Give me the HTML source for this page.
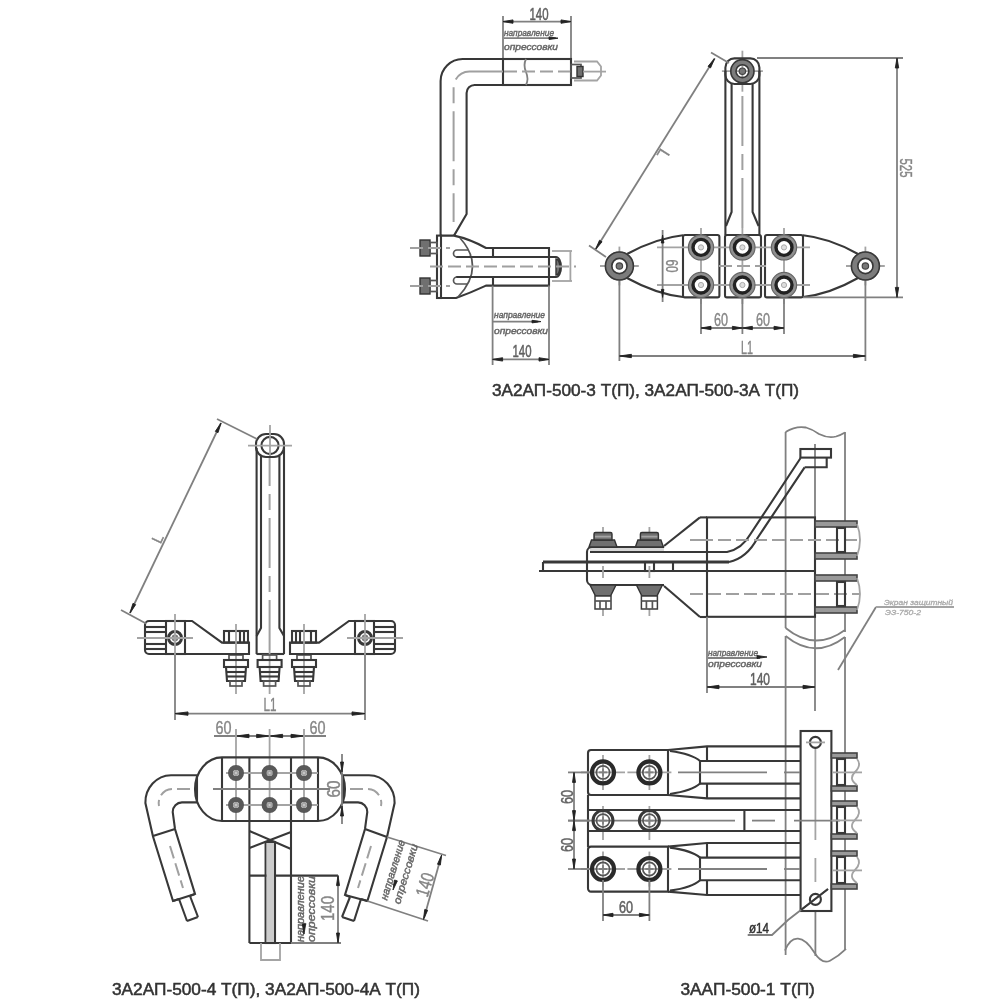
<!DOCTYPE html>
<html lang="ru"><head><meta charset="utf-8"><title>Зажимы аппаратные прессуемые</title>
<style>
html,body{margin:0;padding:0;background:#fff}
body{width:1000px;height:1000px;overflow:hidden}
svg{display:block;font-family:"Liberation Sans",sans-serif;filter:blur(.7px)}
.k{fill:none;stroke:#383838;stroke-width:2.1}
.m{fill:none;stroke:#555;stroke-width:1.7}
.n{fill:none;stroke:#808080;stroke-width:1.8}
.c{fill:none;stroke:#a0a0a0;stroke-width:2;stroke-dasharray:13 5}
.c2{fill:none;stroke:#a0a0a0;stroke-width:2;stroke-dasharray:50 8 16 8}
.g{fill:none;stroke:#a4a4a4;stroke-width:1.8}
.a{fill:#222;stroke:#222;stroke-width:.9;stroke-linejoin:round}
.d{fill:#707070;stroke:#333;stroke-width:1.4}
.b{fill:#999;stroke:#444;stroke-width:1.6}
.s2{fill:#aaa;stroke:#aaa;stroke-width:.3;font-style:italic}
.w{fill:#fff;stroke:#3c3c3c;stroke-width:1.5}
.t{fill:#606060;stroke:#606060;stroke-width:.5}
.lf{fill:#d8d8d8;stroke:none}
.t2{fill:#858585;stroke:#858585;stroke-width:.4}
.s{fill:#666;stroke:#666;stroke-width:.45;font-style:italic}
.cap{fill:#333;stroke:#333;stroke-width:.5}
</style></head><body>
<svg width="1000" height="1000" viewBox="0 0 1000 1000">
<rect width="1000" height="1000" fill="#fff"/>
<!-- drawing 1: L-shaped clamp, side view -->
<path class="n" d="M503,16L503,59"/>
<path class="n" d="M571,16L571,59"/>
<path class="n" d="M503,21.6L571,21.6"/>
<path class="a" d="M503,21.6L513,19.9L513,23.3Z"/>
<path class="a" d="M571,21.6L561,23.3L561,19.9Z"/>
<text class="t" x="539" y="19.5" font-size="16.5" text-anchor="middle" textLength="19" lengthAdjust="spacingAndGlyphs">140</text>
<text class="s" x="504" y="36" font-size="9.5" text-anchor="start" textLength="50" lengthAdjust="spacingAndGlyphs">направление</text>
<path class="n" d="M504,38.2L556,38.2"/>
<path class="a" d="M558,38.2L549,39.5L549,36.9Z"/>
<text class="s" x="504" y="50" font-size="9.5" text-anchor="start" textLength="54" lengthAdjust="spacingAndGlyphs">опрессовки</text>
<path class="k" d="M503,59H462.6A22,22 0 0 0 440.6,81V235.6"/>
<path class="k" d="M503,85H474.6A8,8 0 0 0 466.6,93V214L454,235.6"/>
<rect class="k" x="503" y="59" width="68" height="26"/>
<path class="n" d="M526,59q-3,6 0,13t0,13"/>
<path class="c" d="M571,71.6H503"/>
<path class="c2" d="M503,71.6H470A16,16 0 0 0 453.6,88V222"/>
<rect class="m" x="571" y="64.5" width="10" height="13.5"/>
<rect class="d" x="577" y="66.5" width="6" height="10"/>
<path class="g" d="M574,61.5H597l4,5v9l-4,5H574"/>
<path class="g" d="M583,71.6L606,71.6"/>
<rect class="k" x="437" y="235.6" width="4" height="62.4"/>
<path class="k" d="M441,235.6H454Q470,239 486,248H549V285.6H486Q470,293 456,298H441"/>
<path class="m" d="M460,238Q486,267 458,297"/>
<path class="k" d="M456,257L556,257"/>
<path class="k" d="M456,277L556,277"/>
<path class="m" d="M468,250H457a3.5,3.5 0 0 0 0,7"/>
<path class="m" d="M468,284H457a3.5,3.5 0 0 1 0,-7"/>
<path class="k" d="M493,248L493,257"/>
<path class="k" d="M493,277L493,285.6"/>
<path class="k" d="M549,257H556a5,10 0 0 1 0,20H549"/>
<path class="d" d="M556,259a4,8 0 0 1 0,16z"/>
<path class="c" d="M430,266.6L576,266.6"/>
<rect class="d" x="420" y="240" width="10" height="16"/>
<rect class="m" x="430" y="242.5" width="7" height="11"/>
<path class="c" d="M410,248L450,248"/>
<rect class="d" x="420" y="278" width="10" height="16"/>
<rect class="m" x="430" y="280.5" width="7" height="11"/>
<path class="c" d="M410,286L450,286"/>
<path class="g" d="M552,251L572,251"/>
<path class="g" d="M552,281L572,281"/>
<path class="g" d="M570.4,251L570.4,281"/>
<path class="n" d="M492.6,285.6L492.6,365"/>
<path class="n" d="M549,285.6L549,365"/>
<text class="s" x="494" y="318" font-size="9.5" text-anchor="start" textLength="51" lengthAdjust="spacingAndGlyphs">направление</text>
<path class="n" d="M493,321.6L538,321.6"/>
<path class="a" d="M541,321.6L532,322.9L532,320.3Z"/>
<text class="s" x="494" y="334" font-size="9.5" text-anchor="start" textLength="54" lengthAdjust="spacingAndGlyphs">опрессовки</text>
<path class="n" d="M492.6,359.4L549,359.4"/>
<path class="a" d="M492.6,359.4L502.6,357.7L502.6,361.1Z"/>
<path class="a" d="M549,359.4L539,361.1L539,357.7Z"/>
<text class="t" x="522" y="356.5" font-size="16.5" text-anchor="middle" textLength="19" lengthAdjust="spacingAndGlyphs">140</text>
<text class="cap" x="492" y="396" font-size="16" text-anchor="start" textLength="307" lengthAdjust="spacingAndGlyphs">3А2АП-500-3 Т(П), 3А2АП-500-3А Т(П)</text>
<!-- drawing 2: front view -->
<path class="g" d="M721.9,71.2L762.9,71.2"/>
<path class="g" d="M742.4,50.7L742.4,91.7"/>
<rect class="k" x="725.4" y="58.4" width="34" height="25.6" rx="9"/>
<circle class="k" cx="742.4" cy="71.2" r="9" style="stroke-width:5.5;stroke:#7c7c7c"/>
<circle class="k" cx="742.4" cy="71.2" r="11.6" style="stroke-width:1.6"/>
<circle class="k" cx="742.4" cy="71.2" r="6.4" style="stroke-width:1.6"/>
<circle class="k" cx="742.4" cy="71.2" r="3.2" style="fill:#777;stroke:#444;stroke-width:1.2"/>
<path class="k" d="M725.4,71L725.4,235"/>
<path class="k" d="M759.4,71L759.4,235"/>
<path class="k" d="M731.6,84V212L726,226"/>
<path class="k" d="M752.6,84V212L758.6,226"/>
<path class="c2" d="M742.4,228L742.4,88"/>
<rect class="k" x="683" y="235" width="36.4" height="62.4" rx="2"/>
<rect class="k" x="725" y="235" width="36" height="62.4" rx="2"/>
<rect class="k" x="765" y="235" width="38" height="62.4" rx="2"/>
<path class="g" d="M657,247.4L810,247.4"/>
<path class="g" d="M657,285L810,285"/>
<path class="c" d="M719,266L766,266"/>
<path class="g" d="M701,228L701,304"/>
<circle class="k" cx="701" cy="247.4" r="12.6" style="fill:#909090;stroke:#666;stroke-width:1.2"/>
<circle class="k" cx="701" cy="247.4" r="8" style="fill:#fff;stroke:#222;stroke-width:3.4"/>
<circle class="k" cx="701" cy="247.4" r="2.6" style="fill:#ddd;stroke:#aaa;stroke-width:1"/>
<circle class="k" cx="701" cy="285" r="12.6" style="fill:#909090;stroke:#666;stroke-width:1.2"/>
<circle class="k" cx="701" cy="285" r="8" style="fill:#fff;stroke:#222;stroke-width:3.4"/>
<circle class="k" cx="701" cy="285" r="2.6" style="fill:#ddd;stroke:#aaa;stroke-width:1"/>
<path class="g" d="M742.4,228L742.4,304"/>
<circle class="k" cx="742.4" cy="247.4" r="12.6" style="fill:#909090;stroke:#666;stroke-width:1.2"/>
<circle class="k" cx="742.4" cy="247.4" r="8" style="fill:#fff;stroke:#222;stroke-width:3.4"/>
<circle class="k" cx="742.4" cy="247.4" r="2.6" style="fill:#ddd;stroke:#aaa;stroke-width:1"/>
<circle class="k" cx="742.4" cy="285" r="12.6" style="fill:#909090;stroke:#666;stroke-width:1.2"/>
<circle class="k" cx="742.4" cy="285" r="8" style="fill:#fff;stroke:#222;stroke-width:3.4"/>
<circle class="k" cx="742.4" cy="285" r="2.6" style="fill:#ddd;stroke:#aaa;stroke-width:1"/>
<path class="g" d="M784,228L784,304"/>
<circle class="k" cx="784" cy="247.4" r="12.6" style="fill:#909090;stroke:#666;stroke-width:1.2"/>
<circle class="k" cx="784" cy="247.4" r="8" style="fill:#fff;stroke:#222;stroke-width:3.4"/>
<circle class="k" cx="784" cy="247.4" r="2.6" style="fill:#ddd;stroke:#aaa;stroke-width:1"/>
<circle class="k" cx="784" cy="285" r="12.6" style="fill:#909090;stroke:#666;stroke-width:1.2"/>
<circle class="k" cx="784" cy="285" r="8" style="fill:#fff;stroke:#222;stroke-width:3.4"/>
<circle class="k" cx="784" cy="285" r="2.6" style="fill:#ddd;stroke:#aaa;stroke-width:1"/>
<path class="k" d="M683,235.2Q656,238 627,254"/>
<path class="k" d="M683,297Q656,294 627,278"/>
<path class="k" d="M803,235.2Q830,238 858,254"/>
<path class="k" d="M803,297Q830,294 858,278"/>
<path class="g" d="M600,266L638.8,266"/>
<path class="g" d="M619.4,246.6L619.4,285.4"/>
<circle class="k" cx="619.4" cy="266" r="10.8" style="stroke-width:7.2;stroke:#7c7c7c;fill:#fff"/>
<circle class="k" cx="619.4" cy="266" r="14" style="stroke-width:1.6"/>
<circle class="k" cx="619.4" cy="266" r="7.6" style="stroke-width:1.6"/>
<circle class="k" cx="619.4" cy="266" r="3.2" style="fill:#777;stroke:#444;stroke-width:1.2"/>
<path class="g" d="M846,266L884.8,266"/>
<path class="g" d="M865.4,246.6L865.4,285.4"/>
<circle class="k" cx="865.4" cy="266" r="10.8" style="stroke-width:7.2;stroke:#7c7c7c;fill:#fff"/>
<circle class="k" cx="865.4" cy="266" r="14" style="stroke-width:1.6"/>
<circle class="k" cx="865.4" cy="266" r="7.6" style="stroke-width:1.6"/>
<circle class="k" cx="865.4" cy="266" r="3.2" style="fill:#777;stroke:#444;stroke-width:1.2"/>
<path class="n" d="M662.6,230L662.6,302"/>
<path class="a" d="M662.6,235L663.9,243L661.3,243Z"/>
<path class="a" d="M662.6,297.4L661.3,289.4L663.9,289.4Z"/>
<text class="t2" x="665.5" y="266" font-size="16" text-anchor="middle" textLength="13" lengthAdjust="spacingAndGlyphs" transform="rotate(90 665.5 266)">60</text>
<path class="n" d="M701,298L701,334"/>
<path class="n" d="M742.4,298L742.4,334"/>
<path class="n" d="M784,298L784,334"/>
<path class="n" d="M701,328L784,328"/>
<path class="a" d="M701,328L711,326.3L711,329.7Z"/>
<path class="a" d="M742.4,328L732.4,329.7L732.4,326.3Z"/>
<path class="a" d="M742.4,328L752.4,326.3L752.4,329.7Z"/>
<path class="a" d="M784,328L774,329.7L774,326.3Z"/>
<text class="t2" x="721" y="326" font-size="18" text-anchor="middle" textLength="14" lengthAdjust="spacingAndGlyphs">60</text>
<text class="t2" x="763" y="326" font-size="18" text-anchor="middle" textLength="14" lengthAdjust="spacingAndGlyphs">60</text>
<path class="n" d="M619.4,281L619.4,361"/>
<path class="n" d="M865.4,281L865.4,361"/>
<path class="n" d="M619.4,356L865.4,356"/>
<path class="a" d="M619.4,356L631.4,354.3L631.4,357.7Z"/>
<path class="a" d="M865.4,356L853.4,357.7L853.4,354.3Z"/>
<text class="t2" x="747" y="354" font-size="18" text-anchor="middle" textLength="12" lengthAdjust="spacingAndGlyphs">L1</text>
<path class="n" d="M757,58L903,58"/>
<path class="n" d="M803,297.4L903,297.4"/>
<path class="n" d="M897,58L897,297.4"/>
<path class="a" d="M897,58L898.7,68L895.3,68Z"/>
<path class="a" d="M897,297.4L895.3,287.4L898.7,287.4Z"/>
<text class="t2" x="899.5" y="168" font-size="16" text-anchor="middle" textLength="19" lengthAdjust="spacingAndGlyphs" transform="rotate(90 899.5 168)">525</text>
<path class="n" d="M714.6,58.6L595.5,249.5"/>
<path class="a" d="M714.6,58.6L710.57,67.88L708.03,66.29Z"/>
<path class="a" d="M595.5,249.5L599.53,240.22L602.07,241.81Z"/>
<path class="n" d="M711,52.5L729,63"/>
<path class="n" d="M589,245.5L606,257"/>
<text class="t2" x="661" y="147.5" font-size="16" text-anchor="start" transform="rotate(122 661 147.5)">L</text>
<!-- drawing 3: front view of 4-type -->
<rect class="k" x="256" y="434" width="28" height="23" rx="10"/>
<circle class="k" cx="270" cy="445.5" r="8.6"/>
<path class="g" d="M248,445.6L292,445.6"/>
<path class="g" d="M270,425L270,456"/>
<path class="k" d="M256.6,448L256.6,654"/>
<path class="k" d="M284,448L284,654"/>
<path class="k" d="M261,456V628L256.6,636"/>
<path class="k" d="M279.4,456V628L284,636"/>
<path class="c2" d="M269.6,650L269.6,458"/>
<path class="k" d="M256.4,654L284.2,654"/>
<path class="g" d="M236,650L236,694"/>
<rect class="m" x="229" y="655" width="14" height="5"/>
<rect class="k" x="224" y="660" width="24" height="7"/>
<path class="k" d="M226,667L227,681H245L246,667"/>
<path class="k" d="M226,672L246,672"/>
<path class="k" d="M226.5,676.5L245.5,676.5"/>
<rect class="m" x="230" y="681" width="12" height="5"/>
<path class="g" d="M269.6,650L269.6,694"/>
<rect class="m" x="262.6" y="655" width="14" height="5"/>
<rect class="k" x="257.6" y="660" width="24" height="7"/>
<path class="k" d="M259.6,667L260.6,681H278.6L279.6,667"/>
<path class="k" d="M259.6,672L279.6,672"/>
<path class="k" d="M260.1,676.5L279.1,676.5"/>
<rect class="m" x="263.6" y="681" width="12" height="5"/>
<path class="g" d="M304,650L304,694"/>
<rect class="m" x="297" y="655" width="14" height="5"/>
<rect class="k" x="292" y="660" width="24" height="7"/>
<path class="k" d="M294,667L295,681H313L314,667"/>
<path class="k" d="M294,672L314,672"/>
<path class="k" d="M294.5,676.5L313.5,676.5"/>
<rect class="m" x="298" y="681" width="12" height="5"/>
<path class="k" d="M149,621H192L222,642.6H249V654H149A4,4 0 0 1 145,650V625A4,4 0 0 1 149,621Z"/>
<rect class="k" x="166" y="621" width="19" height="33"/>
<path class="k" d="M145,627L166,627"/>
<path class="k" d="M145,632L166,632"/>
<path class="k" d="M145,644L166,644"/>
<path class="k" d="M145,649L166,649"/>
<circle class="k" cx="175" cy="638" r="6.5" style="stroke-width:3"/>
<circle class="n" cx="175" cy="638" r="2.5"/>
<path class="g" d="M137,638L193,638"/>
<path class="g" d="M175,614L175,655"/>
<rect class="k" x="224" y="631" width="24" height="11.6"/>
<path class="k" d="M229,631L229,642.6"/>
<path class="k" d="M240,631L240,642.6"/>
<path class="k" d="M244,631L244,642.6"/>
<path class="g" d="M236,624L236,650"/>
<path class="k" d="M391,621H349L319,642.6H290V654H391A4,4 0 0 0 395,650V625A4,4 0 0 0 391,621Z"/>
<rect class="k" x="355" y="621" width="19" height="33"/>
<path class="k" d="M374,627L395,627"/>
<path class="k" d="M374,632L395,632"/>
<path class="k" d="M374,644L395,644"/>
<path class="k" d="M374,649L395,649"/>
<circle class="k" cx="365" cy="638" r="6.5" style="stroke-width:3"/>
<circle class="n" cx="365" cy="638" r="2.5"/>
<path class="g" d="M347,638L403,638"/>
<path class="g" d="M365,614L365,655"/>
<rect class="k" x="292" y="631" width="24" height="11.6"/>
<path class="k" d="M296,631L296,642.6"/>
<path class="k" d="M300,631L300,642.6"/>
<path class="k" d="M311,631L311,642.6"/>
<path class="g" d="M304,624L304,650"/>
<path class="n" d="M175,655L175,720"/>
<path class="n" d="M365,655L365,720"/>
<path class="n" d="M175,713.6L365,713.6"/>
<path class="a" d="M175,713.6L188,711.9L188,715.3Z"/>
<path class="a" d="M365,713.6L352,715.3L352,711.9Z"/>
<text class="t2" x="270" y="711" font-size="19" text-anchor="middle" textLength="13" lengthAdjust="spacingAndGlyphs">L1</text>
<path class="n" d="M221,423L130,613"/>
<path class="a" d="M221,423L218.03,432.67L215.33,431.37Z"/>
<path class="a" d="M130,613L132.97,603.33L135.67,604.63Z"/>
<path class="n" d="M217,419L257,439"/>
<path class="n" d="M121,610L146,623.5"/>
<text class="t2" x="164" y="537" font-size="15" text-anchor="end" transform="rotate(-64.4 164 537)">L</text>
<!-- drawing 4: top view of 4-type -->
<text class="t2" x="223.5" y="733.5" font-size="19" text-anchor="middle" textLength="16" lengthAdjust="spacingAndGlyphs">60</text>
<text class="t2" x="317.5" y="733.5" font-size="19" text-anchor="middle" textLength="16" lengthAdjust="spacingAndGlyphs">60</text>
<path class="n" d="M214,736L326,736"/>
<path class="a" d="M236,736L249,734.3L249,737.7Z"/>
<path class="a" d="M269.6,736L282.6,734.3L282.6,737.7Z"/>
<path class="a" d="M269.6,736L256.6,737.7L256.6,734.3Z"/>
<path class="a" d="M304,736L291,737.7L291,734.3Z"/>
<path class="g" d="M236,729L236,821"/>
<path class="g" d="M269.6,729L269.6,821"/>
<path class="g" d="M304,729L304,821"/>
<path class="k" d="M222,757.4H318A27,31.8 0 0 1 318,821H222A27,31.8 0 0 1 222,757.4Z"/>
<path class="k" d="M197,775L197,803"/>
<path class="k" d="M343,775L343,803"/>
<path class="k" d="M222,757.4L222,821"/>
<path class="k" d="M249.4,757.4L249.4,821"/>
<path class="k" d="M291,757.4L291,821"/>
<path class="k" d="M318,757.4L318,821"/>
<path class="n" d="M213,789L330,789"/>
<path class="g" d="M226,773L318,773"/>
<path class="g" d="M226,805L318,805"/>
<circle class="k" cx="236" cy="773" r="5.5" style="stroke-width:5;stroke:#585858"/>
<circle class="g" cx="236" cy="773" r="2" style="fill:#ccc"/>
<circle class="k" cx="236" cy="805" r="5.5" style="stroke-width:5;stroke:#585858"/>
<circle class="g" cx="236" cy="805" r="2" style="fill:#ccc"/>
<circle class="k" cx="269.6" cy="773" r="5.5" style="stroke-width:5;stroke:#585858"/>
<circle class="g" cx="269.6" cy="773" r="2" style="fill:#ccc"/>
<circle class="k" cx="269.6" cy="805" r="5.5" style="stroke-width:5;stroke:#585858"/>
<circle class="g" cx="269.6" cy="805" r="2" style="fill:#ccc"/>
<circle class="k" cx="304" cy="773" r="5.5" style="stroke-width:5;stroke:#585858"/>
<circle class="g" cx="304" cy="773" r="2" style="fill:#ccc"/>
<circle class="k" cx="304" cy="805" r="5.5" style="stroke-width:5;stroke:#585858"/>
<circle class="g" cx="304" cy="805" r="2" style="fill:#ccc"/>
<path class="n" d="M342,754L342,824"/>
<path class="a" d="M342,772L340.5,762L343.5,762Z"/>
<path class="a" d="M342,806L343.5,816L340.5,816Z"/>
<text class="t2" x="339.5" y="789" font-size="19" text-anchor="middle" textLength="17" lengthAdjust="spacingAndGlyphs" transform="rotate(-90 339.5 789)">60</text>
<path class="k" d="M197,775.2H171A26,27 0 0 0 145.4,803L153,836.6L173,901L179,899"/>
<path class="k" d="M197,802.4H182A9.5,9.5 0 0 0 172.7,812L175,829L195,894L190,896"/>
<path class="k" d="M153,836L175,829"/>
<path class="k" d="M173,901L195,894"/>
<path class="k" d="M179,899L187,921M190,896L198,917M187,921L198,917"/>
<path class="c" d="M190,789H172A14,14 0 0 0 159,806"/>
<path class="c" d="M170,846L183,888"/>
<path class="k" d="M343,775.2H369A26,27 0 0 1 394.6,803L387,837L367.4,901L361,899"/>
<path class="k" d="M343,802.4H358A9.5,9.5 0 0 1 367.3,812L365,829L345,895L350,897"/>
<path class="k" d="M365,829L387,837"/>
<path class="k" d="M345,895L367.4,901"/>
<path class="k" d="M350,897L342,917M361,899L354,921M342,917L354,921"/>
<path class="c" d="M350,789H368A14,14 0 0 1 381,806"/>
<path class="c" d="M371,846L358,888"/>
<path class="n" d="M387,837L446,855.5"/>
<path class="n" d="M367.4,901L428,921"/>
<path class="n" d="M441,857L424,918"/>
<path class="a" d="M441.6,855L440.37,865.04L437.48,864.24Z"/>
<path class="a" d="M423.5,919.5L424.73,909.46L427.62,910.26Z"/>
<text class="t2" x="431" y="886.5" font-size="18.5" text-anchor="middle" textLength="24" lengthAdjust="spacingAndGlyphs" transform="rotate(-73 431 886.5)">140</text>
<text class="s" x="396" y="871" font-size="10.5" text-anchor="middle" textLength="62" lengthAdjust="spacingAndGlyphs" transform="rotate(-73 396 871)">направление</text>
<text class="s" x="409" y="875" font-size="10.5" text-anchor="middle" textLength="62" lengthAdjust="spacingAndGlyphs" transform="rotate(-73 409 875)">опрессовки</text>
<path class="a" d="M393,890L394.49,880L397.36,880.88Z"/>
<path class="k" d="M249.4,821L249.4,943"/>
<path class="k" d="M291,821L291,943"/>
<path class="k" d="M249.4,943L291,943"/>
<path class="k" d="M249.4,875.6L338,875.6"/>
<path class="k" d="M249.4,831L291,849M249.4,848L291,832"/>
<rect class="k" x="265.6" y="842" width="9.4" height="101"/>
<rect class="g" style="fill:#ccc;stroke:none" x="266.6" y="843" width="7.4" height="99"/>
<path class="g" d="M261,943V960H280V943"/>
<path class="n" d="M291,943L341,943"/>
<path class="n" d="M338,875.6L338,943"/>
<path class="a" d="M338,875.6L339.5,885.6L336.5,885.6Z"/>
<path class="a" d="M338,943L336.5,933L339.5,933Z"/>
<text class="t2" x="333.5" y="908.5" font-size="18.5" text-anchor="middle" textLength="25" lengthAdjust="spacingAndGlyphs" transform="rotate(-90 333.5 908.5)">140</text>
<text class="s" x="303.5" y="909" font-size="10.5" text-anchor="middle" textLength="66" lengthAdjust="spacingAndGlyphs" transform="rotate(-90 303.5 909)">направление</text>
<text class="s" x="315" y="909" font-size="10.5" text-anchor="middle" textLength="66" lengthAdjust="spacingAndGlyphs" transform="rotate(-90 315 909)">опрессовки</text>
<path class="a" d="M304,934L302.3,924L305.7,924Z"/>
<text class="cap" x="112" y="994.5" font-size="16" text-anchor="start" textLength="308" lengthAdjust="spacingAndGlyphs">3А2АП-500-4 Т(П), 3А2АП-500-4А Т(П)</text>
<!-- drawing 5: side view with shield -->
<path class="n" d="M785.6,432V628M845,432V632"/>
<path class="n" d="M785.6,432Q796,425.5 806,427.5Q813,429.5 819,434Q828,438.5 836,436.5Q841,435 845,432.5"/>
<path class="n" d="M815,444L815,517"/>
<path class="n" d="M815,617L815,711"/>
<path class="n" d="M785.6,628Q815,652 845,630"/>
<path class="n" d="M785.6,636Q815,660 845,637"/>
<path class="n" d="M785.6,636V955M845,637V950"/>
<rect class="k" x="800.4" y="449" width="30.6" height="8.6"/>
<path class="k" d="M804.6,467.3H826.7V457.6"/>
<path class="k" d="M800.6,458L750.5,534Q742,549 727,552H664"/>
<path class="k" d="M804.6,467.3L757.5,538Q747,558 729,562"/>
<rect class="k" x="707" y="517.4" width="108" height="99.4"/>
<path class="k" d="M700,517.4L707,517.4"/>
<path class="k" d="M700,617L707,617"/>
<path class="k" d="M664,546L700,517.4"/>
<path class="k" d="M664,586L700,617"/>
<path class="c" d="M690,540L712,540"/>
<path class="c" d="M700,540H860"/>
<path class="c" d="M690,594H860"/>
<rect class="lf" x="590" y="547" width="74" height="5"/>
<path class="k" style="stroke-width:2.8" d="M543,562H729"/>
<path class="k" d="M539,571H815"/>
<path class="k" d="M543,562L543,571"/>
<path class="k" d="M664,547H592A5,5 0 0 0 587,552V580A5,5 0 0 0 592,585H664"/>
<path class="k" d="M590,552L664,552"/>
<rect class="k" x="645" y="562" width="9" height="9"/>
<path class="k" d="M673,562L673,571"/>
<path class="g" d="M603,527L603,533"/>
<path class="g" d="M603,609L603,616"/>
<path class="g" d="M603,566L603,578"/>
<path class="d" d="M589,547L591.5,540H614.5L617,547Z"/>
<path class="d" d="M594,540V534Q594,532.5 595.5,532.5H610.5Q612,532.5 612,534V540Z"/>
<path class="g" d="M595,536.6L611,536.6"/>
<path class="d" d="M590,585L595.5,596H610.5L616,585Z"/>
<rect class="w" x="595" y="596" width="16" height="13"/>
<path class="m" d="M595,601L611,601"/>
<path class="m" d="M600,601L600,609"/>
<path class="m" d="M606,601L606,609"/>
<path class="g" d="M649.4,527L649.4,533"/>
<path class="g" d="M649.4,609L649.4,616"/>
<path class="g" d="M649.4,566L649.4,578"/>
<path class="d" d="M635.4,547L637.9,540H660.9L663.4,547Z"/>
<path class="d" d="M640.4,540V534Q640.4,532.5 641.9,532.5H656.9Q658.4,532.5 658.4,534V540Z"/>
<path class="g" d="M641.4,536.6L657.4,536.6"/>
<path class="d" d="M636.4,585L641.9,596H656.9L662.4,585Z"/>
<rect class="w" x="641.4" y="596" width="16" height="13"/>
<path class="m" d="M641.4,601L657.4,601"/>
<path class="m" d="M646.4,601L646.4,609"/>
<path class="m" d="M652.4,601L652.4,609"/>
<rect class="b" x="815" y="521" width="42" height="6"/>
<rect class="b" x="815" y="553" width="42" height="6"/>
<rect class="k" x="837" y="528" width="8" height="24"/>
<path class="g" d="M857,524Q863,540 857,556"/>
<rect class="b" x="815" y="575" width="42" height="6"/>
<rect class="b" x="815" y="607" width="42" height="6"/>
<rect class="k" x="837" y="582" width="8" height="24"/>
<path class="g" d="M857,578Q863,594 857,610"/>
<path class="n" d="M707,617L707,693"/>
<text class="s" x="708" y="656" font-size="9.5" text-anchor="start" textLength="50" lengthAdjust="spacingAndGlyphs">направление</text>
<path class="n" d="M708,658L760,658"/>
<path class="a" d="M767,657L757,658.5L757,655.5Z"/>
<text class="s" x="708" y="667" font-size="9.5" text-anchor="start" textLength="54" lengthAdjust="spacingAndGlyphs">опрессовки</text>
<path class="n" d="M707,687L815,687"/>
<path class="a" d="M707,687L719,685.3L719,688.7Z"/>
<path class="a" d="M815,687L803,688.7L803,685.3Z"/>
<text class="t" x="760" y="685" font-size="16.5" text-anchor="middle" textLength="20" lengthAdjust="spacingAndGlyphs">140</text>
<path class="n" d="M838,670L876,607"/>
<path class="g" d="M876,607H954"/>
<text class="s2" x="884" y="604.5" font-size="7.5" text-anchor="start" textLength="69" lengthAdjust="spacingAndGlyphs">Экран защитный</text>
<text class="s2" x="885" y="615" font-size="7.5" text-anchor="start" textLength="36" lengthAdjust="spacingAndGlyphs">ЭЗ-750-2</text>
<!-- drawing 6: top view with shield -->
<path class="n" d="M785,950.5Q790,938 798,938.6T814,952T830,960.7T846,948.8"/>
<path class="g" d="M815.4,748L815.4,840"/>
<path class="g" d="M815.4,858L815.4,882"/>
<path class="n" d="M815.4,911L815.4,956"/>
<rect class="k" x="800.6" y="731" width="30.8" height="180"/>
<circle class="k" cx="815.4" cy="742.4" r="5.5"/>
<circle class="k" cx="815.4" cy="899.4" r="5.5"/>
<path class="g" d="M806,742.4L825,742.4"/>
<path class="n" d="M828,889L788,920L772,935H747.7"/>
<path class="k" d="M828,889L801,910"/>
<text class="cap" x="759" y="933" font-size="14" text-anchor="middle" textLength="20" lengthAdjust="spacingAndGlyphs">ø14</text>
<path class="k" d="M668,750H591A3,3 0 0 0 588,753V792A3,3 0 0 0 591,795H668Z"/>
<path class="k" d="M668,750L707,746.4H800.6"/>
<path class="k" d="M668,795L707,798.4H800.6"/>
<path class="k" d="M707,746.4L707,761"/>
<path class="k" d="M707,783.6L707,798.4"/>
<path class="k" d="M700,761H800.6"/>
<path class="k" d="M700,783.6H800.6"/>
<path class="k" d="M670,751Q692,754 700,761V783.6Q692,791 670,794"/>
<path class="n" d="M678,772.4L767,772.4"/>
<path class="n" d="M784,772.4L800,772.4"/>
<path class="g" d="M581,772.4L625,772.4"/>
<path class="g" d="M603,755L603,790"/>
<circle class="k" cx="603" cy="772.4" r="11" style="stroke-width:4.2;stroke:#2a2a2a"/>
<circle class="m" cx="603" cy="772.4" r="6.6"/>
<path class="n" d="M599,772.4H607M603,768.4V776.4"/>
<path class="g" d="M627.4,772.4L671.4,772.4"/>
<path class="g" d="M649.4,755L649.4,790"/>
<circle class="k" cx="649.4" cy="772.4" r="11" style="stroke-width:4.2;stroke:#2a2a2a"/>
<circle class="m" cx="649.4" cy="772.4" r="6.6"/>
<path class="n" d="M645.4,772.4H653.4M649.4,768.4V776.4"/>
<path class="k" d="M668,846.6H591A3,3 0 0 0 588,849.6V888.6A3,3 0 0 0 591,891.6H668Z"/>
<path class="k" d="M668,846.6L707,843.0H800.6"/>
<path class="k" d="M668,891.6L707,895.0H800.6"/>
<path class="k" d="M707,843L707,857.6"/>
<path class="k" d="M707,880.2L707,895"/>
<path class="k" d="M700,857.6H800.6"/>
<path class="k" d="M700,880.2H800.6"/>
<path class="k" d="M670,847.6Q692,850.6 700,857.6V880.2Q692,887.6 670,890.6"/>
<path class="n" d="M678,869L767,869"/>
<path class="n" d="M784,869L800,869"/>
<path class="g" d="M581,869L625,869"/>
<path class="g" d="M603,851.6L603,886.6"/>
<circle class="k" cx="603" cy="869" r="11" style="stroke-width:4.2;stroke:#2a2a2a"/>
<circle class="m" cx="603" cy="869" r="6.6"/>
<path class="n" d="M599,869.0H607M603,865.0V873.0"/>
<path class="g" d="M627.4,869L671.4,869"/>
<path class="g" d="M649.4,851.6L649.4,886.6"/>
<circle class="k" cx="649.4" cy="869" r="11" style="stroke-width:4.2;stroke:#2a2a2a"/>
<circle class="m" cx="649.4" cy="869" r="6.6"/>
<path class="n" d="M645.4,869.0H653.4M649.4,865.0V873.0"/>
<path class="k" d="M588,795V847"/>
<path class="k" d="M588,810H800.6M588,831H800.6"/>
<path class="k" d="M744.4,810L744.4,831"/>
<path class="n" d="M568,820.6L735,820.6"/>
<path class="n" d="M752,820.6L775,820.6"/>
<path class="n" d="M794,820.6L840,820.6"/>
<path class="g" d="M603,806L603,840"/>
<circle class="k" cx="603" cy="820.6" r="10" style="stroke-width:3"/>
<circle class="m" cx="603" cy="820.6" r="6.5"/>
<path class="n" d="M599,820.6H607M603,816.6V824.6"/>
<path class="g" d="M649.4,806L649.4,840"/>
<circle class="k" cx="649.4" cy="820.6" r="10" style="stroke-width:3"/>
<circle class="m" cx="649.4" cy="820.6" r="6.5"/>
<path class="n" d="M645.4,820.6H653.4M649.4,816.6V824.6"/>
<rect class="b" x="831.4" y="753" width="25.6" height="5"/>
<rect class="b" x="831.4" y="786" width="25.6" height="5"/>
<rect class="k" x="837" y="759" width="8" height="26"/>
<path class="g" d="M857,759q5,6 -2,13t2,13"/>
<path class="g" d="M832,772.4L862,772.4"/>
<rect class="b" x="831.4" y="801" width="25.6" height="5"/>
<rect class="b" x="831.4" y="834" width="25.6" height="5"/>
<rect class="k" x="837" y="807" width="8" height="26"/>
<path class="g" d="M857,807q5,6 -2,13t2,13"/>
<path class="g" d="M832,820.4L862,820.4"/>
<rect class="b" x="831.4" y="851" width="25.6" height="5"/>
<rect class="b" x="831.4" y="884" width="25.6" height="5"/>
<rect class="k" x="837" y="857" width="8" height="26"/>
<path class="g" d="M857,857q5,6 -2,13t2,13"/>
<path class="g" d="M832,870.4L862,870.4"/>
<path class="n" d="M574,772.4L574,869"/>
<path class="n" d="M568,772.4L590,772.4"/>
<path class="n" d="M568,820.6L590,820.6"/>
<path class="n" d="M568,869L590,869"/>
<path class="a" d="M574,772.4L575.5,782.4L572.5,782.4Z"/>
<path class="a" d="M574,820.6L572.5,810.6L575.5,810.6Z"/>
<path class="a" d="M574,820.6L575.5,830.6L572.5,830.6Z"/>
<path class="a" d="M574,869L572.5,859L575.5,859Z"/>
<text class="t" x="573" y="797" font-size="16" text-anchor="middle" textLength="14" lengthAdjust="spacingAndGlyphs" transform="rotate(-90 573 797)">60</text>
<text class="t" x="573" y="845" font-size="16" text-anchor="middle" textLength="14" lengthAdjust="spacingAndGlyphs" transform="rotate(-90 573 845)">60</text>
<path class="n" d="M603,880L603,921"/>
<path class="n" d="M649.4,880L649.4,921"/>
<path class="n" d="M603,915L649.4,915"/>
<path class="a" d="M603,915L613,913.3L613,916.7Z"/>
<path class="a" d="M649.4,915L639.4,916.7L639.4,913.3Z"/>
<text class="t" x="626" y="913" font-size="16" text-anchor="middle" textLength="14" lengthAdjust="spacingAndGlyphs">60</text>
<text class="cap" x="680.4" y="994.5" font-size="16" text-anchor="start" textLength="134.5" lengthAdjust="spacingAndGlyphs">3ААП-500-1 Т(П)</text>
</svg>
</body></html>
